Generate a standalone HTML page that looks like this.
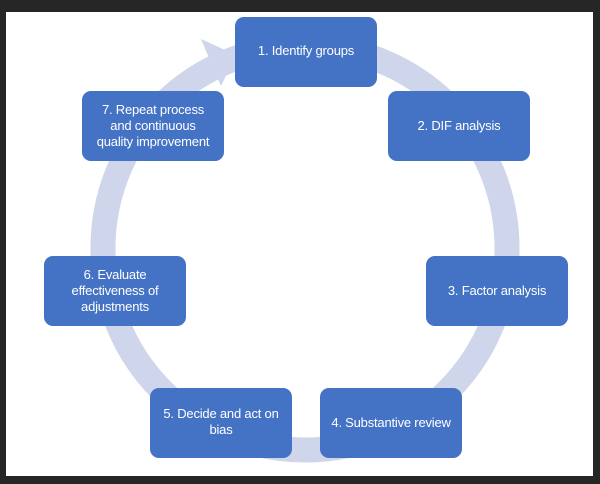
<!DOCTYPE html>
<html><head><style>
body{margin:0;width:600px;height:484px;background:#262626;overflow:hidden;position:relative;font-family:"Liberation Sans",sans-serif}
.w{position:absolute;left:6px;top:12px;width:587px;height:464px;background:#fff}
.b{position:absolute;width:142px;height:70px;background:#4472c4;border-radius:9px;color:#fff;font-size:13px;line-height:16px;display:flex;align-items:center;justify-content:center;text-align:center;box-sizing:border-box;padding:0 3px;letter-spacing:-0.2px}
</style></head><body>
<div class="w"></div>
<svg style="position:absolute;left:0;top:0" width="600" height="484">
<ellipse cx="305" cy="248" rx="202" ry="202" fill="none" stroke="#cfd5ea" stroke-width="25"/>
<polygon points="201,39 221,86 236,55" fill="#cfd5ea"/>
</svg>
<div class="b" style="left:235px;top:17px;align-items:flex-start;padding-top:26px">1. Identify groups</div>
<div class="b" style="left:388px;top:91px">2. DIF analysis</div>
<div class="b" style="left:426px;top:256px">3. Factor analysis</div>
<div class="b" style="left:320px;top:388px">4. Substantive review</div>
<div class="b" style="left:150px;top:388px;align-items:flex-start;padding-top:18px">5. Decide and act on<br>bias</div>
<div class="b" style="left:44px;top:256px">6. Evaluate<br>effectiveness of<br>adjustments</div>
<div class="b" style="left:82px;top:91px">7. Repeat process<br>and continuous<br>quality improvement</div>
</body></html>
